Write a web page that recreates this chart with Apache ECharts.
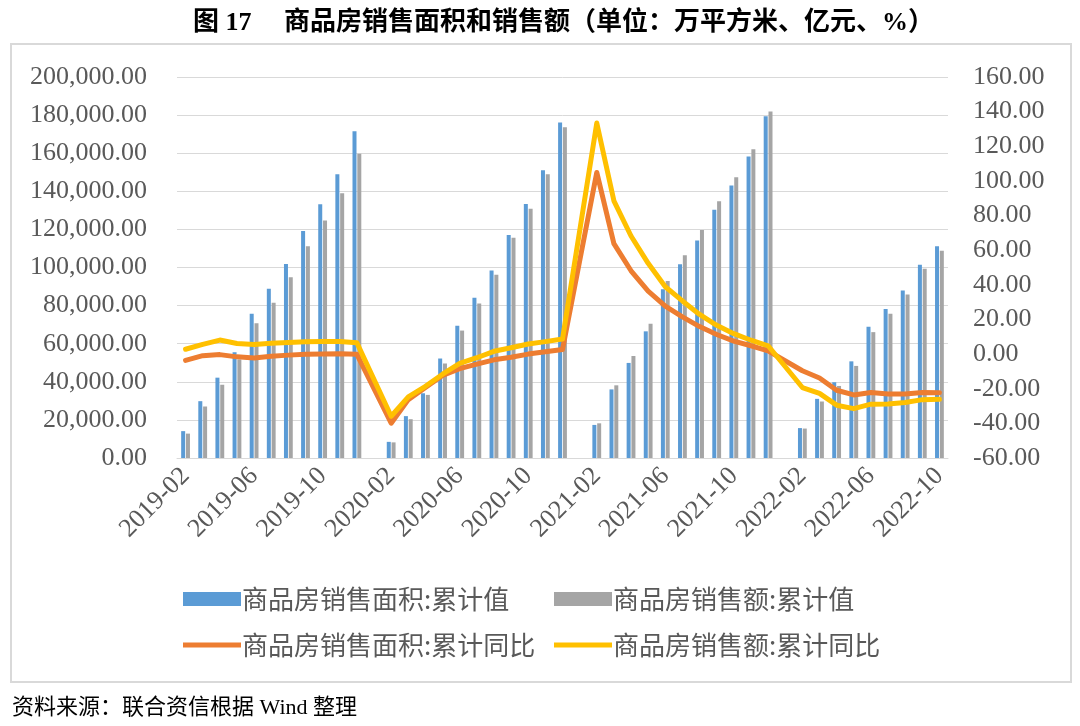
<!DOCTYPE html>
<html>
<head>
<meta charset="utf-8">
<script src="https://cdn.jsdelivr.net/npm/echarts@6/dist/echarts.min.js"></script>
<style>
  html, body { margin: 0; padding: 0; background: #fff; }
  #chart { width: 1080px; height: 726px; }
</style>
</head>
<body>
<div id="chart"></div>
<script>
// 月份（1月与2月合并公布，1月留空）
var months = [
  '2019-02','2019-03','2019-04','2019-05','2019-06','2019-07','2019-08','2019-09','2019-10','2019-11','2019-12',
  '2020-01','2020-02','2020-03','2020-04','2020-05','2020-06','2020-07','2020-08','2020-09','2020-10','2020-11','2020-12',
  '2021-01','2021-02','2021-03','2021-04','2021-05','2021-06','2021-07','2021-08','2021-09','2021-10','2021-11','2021-12',
  '2022-01','2022-02','2022-03','2022-04','2022-05','2022-06','2022-07','2022-08','2022-09','2022-10'
];

// 商品房销售面积:累计值（万平方米）
var areaCum = [
  14102, 29829, 42171, 55518, 75786, 88850, 101849, 119179, 133251, 148905, 171558,
  null, 8475, 21978, 33973, 52223, 69404, 84098, 98486, 117073, 133294, 151057, 176086,
  null, 17363, 36007, 49911, 66488, 88635, 101641, 114193, 130332, 143041, 158287, 179433,
  null, 15703, 31046, 39768, 50738, 68923, 78178, 87890, 101422, 111179
];

// 商品房销售额:累计值（亿元）
var salesCum = [
  12803, 27039, 38450, 51773, 70698, 81552, 94941, 111162, 124665, 139006, 159725,
  null, 8203, 20365, 33126, 49608, 66895, 81126, 96133, 115647, 130796, 148891, 173613,
  null, 18207, 38148, 53544, 70534, 92931, 106377, 119664, 134795, 147427, 162101, 181930,
  null, 15459, 29655, 37818, 48337, 66072, 75763, 85870, 99380, 108832
];

// 商品房销售面积:累计同比（%）
var areaYoy = [
  -3.6, -0.9, -0.3, -1.6, -2.2, -1.3, -0.6, -0.1, 0.1, 0.2, -0.1,
  null, -39.9, -26.3, -19.3, -12.3, -8.4, -5.8, -3.3, -1.8, 0.0, 1.3, 2.6,
  null, 104.9, 63.8, 48.1, 36.3, 27.7, 21.5, 15.9, 11.3, 7.5, 4.8, 1.9,
  null, -9.6, -13.8, -20.9, -23.6, -22.2, -23.1, -23.0, -22.2, -22.3
];

// 商品房销售额:累计同比（%）
var salesYoy = [
  2.8, 5.6, 8.1, 6.1, 5.6, 6.2, 6.7, 7.1, 7.3, 7.3, 6.5,
  null, -35.9, -24.7, -18.6, -11.6, -5.4, -2.1, 1.6, 3.7, 5.8, 7.2, 8.7,
  null, 133.4, 88.5, 68.2, 52.4, 38.9, 30.7, 22.9, 16.6, 11.8, 8.0, 4.8,
  null, -19.3, -22.7, -29.5, -31.5, -28.9, -28.8, -27.9, -26.3, -26.1
];

var names = ['商品房销售面积:累计值', '商品房销售额:累计值', '商品房销售面积:累计同比', '商品房销售额:累计同比'];
var colors = ['#5B9BD5', '#A5A5A5', '#ED7D31', '#FFC000'];

var numFont = '"Liberation Serif", "Noto Sans CJK SC", serif';
var cjkFont = '"Noto Sans CJK SC", sans-serif';
var labelColor = '#595959';

function fmt2(v) {
  return Number(v).toLocaleString('en-US', { minimumFractionDigits: 2, maximumFractionDigits: 2 });
}

function legendAt(name, left, top, isLine) {
  return {
    data: [name],
    left: left,
    top: top,
    itemWidth: 58,
    itemHeight: isLine ? 5 : 14,
    itemGap: 0,
    icon: 'rect',
    textStyle: { fontSize: 26, color: labelColor, fontFamily: cjkFont, padding: [0, 0, 0, -4] },
    selectedMode: false
  };
}

var chart = echarts.init(document.getElementById('chart'));

var option = {
  backgroundColor: '#fff',
  animation: false,
  color: colors,
  title: {
    text: '图 17　 商品房销售面积和销售额（单位：万平方米、亿元、%）',
    left: 188,
    top: 5,
    textStyle: { fontSize: 26, fontWeight: 'bold', color: '#000', fontFamily: numFont }
  },
  graphic: [
    {
      type: 'rect',
      shape: { x: 11, y: 44, width: 1060, height: 638 },
      style: { fill: 'none', stroke: '#D9D9D9', lineWidth: 2 },
      silent: true
    },
    {
      type: 'text',
      left: 12,
      top: 697,
      style: { text: '资料来源：联合资信根据 Wind 整理', fontSize: 22, fill: '#000', fontFamily: numFont }
    }
  ],
  legend: [
    legendAt(names[0], 178, 581, false),
    legendAt(names[1], 549, 581, false),
    legendAt(names[2], 178, 627, true),
    legendAt(names[3], 549, 627, true)
  ],
  grid: { left: 177, right: 132, top: 77, bottom: 268 },
  xAxis: {
    type: 'category',
    data: months,
    axisLine: { lineStyle: { color: '#D9D9D9', width: 1 } },
    axisTick: { show: false },
    axisLabel: {
      interval: 3,
      rotate: 45,
      fontSize: 26,
      color: labelColor,
      fontFamily: numFont,
      margin: 14
    }
  },
  yAxis: [
    {
      type: 'value',
      min: 0,
      max: 200000,
      interval: 20000,
      axisLine: { show: false },
      axisTick: { show: false },
      splitLine: { lineStyle: { color: '#D9D9D9', width: 1 } },
      axisLabel: { formatter: fmt2, fontSize: 26, color: labelColor, fontFamily: numFont, margin: 30 }
    },
    {
      type: 'value',
      min: -60,
      max: 160,
      interval: 20,
      axisLine: { show: false },
      axisTick: { show: false },
      splitLine: { show: false },
      axisLabel: { formatter: fmt2, fontSize: 26, color: labelColor, fontFamily: numFont, margin: 25 }
    }
  ],
  series: [
    {
      name: names[0],
      type: 'bar',
      data: areaCum,
      barWidth: 4,
      barGap: '20%',
      itemStyle: { color: colors[0] }
    },
    {
      name: names[1],
      type: 'bar',
      data: salesCum,
      barWidth: 4,
      barGap: '20%',
      itemStyle: { color: colors[1] }
    },
    {
      name: names[2],
      type: 'line',
      yAxisIndex: 1,
      data: areaYoy,
      connectNulls: true,
      showSymbol: false,
      symbol: 'none',
      lineStyle: { color: colors[2], width: 5, cap: 'round', join: 'round' },
      itemStyle: { color: colors[2] }
    },
    {
      name: names[3],
      type: 'line',
      yAxisIndex: 1,
      data: salesYoy,
      connectNulls: true,
      showSymbol: false,
      symbol: 'none',
      lineStyle: { color: colors[3], width: 5, cap: 'round', join: 'round' },
      itemStyle: { color: colors[3] }
    }
  ]
};

chart.setOption(option);
</script>
</body>
</html>
